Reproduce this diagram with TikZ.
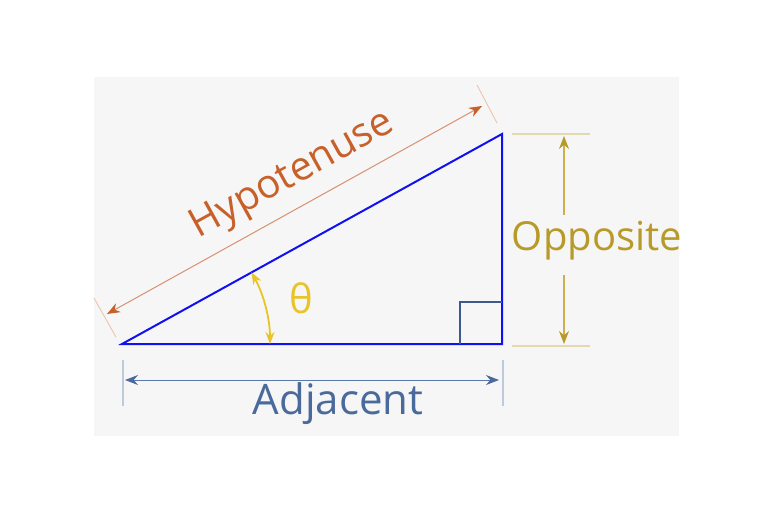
\documentclass[tikz,border=0pt]{standalone}
\usepackage{fontspec}
\setmainfont{Open Sans}
\usetikzlibrary{arrows.meta,calc}
\definecolor{bgc}{HTML}{F6F6F6}
\definecolor{tri}{HTML}{1010F0}
\definecolor{rightc}{HTML}{3C5A8C}
\definecolor{hypc}{HTML}{C8602A}
\definecolor{hypl}{HTML}{D89070}
\definecolor{hypx}{HTML}{EBC0A8}
\definecolor{thc}{HTML}{E8C428}
\definecolor{opc}{HTML}{B89A28}
\definecolor{opl}{HTML}{CBB050}
\definecolor{opx}{HTML}{E4D8AE}
\definecolor{adc}{HTML}{4A6A9C}
\definecolor{adl}{HTML}{5A78A8}
\definecolor{adx}{HTML}{BCCADC}
\tikzset{
  sidel/.style={draw=tri,line width=2pt,line join=miter},
  rightsq/.style={draw=rightc,line width=1.6pt},
  dimarrow/.style={line width=1pt},
  onearrow/.style={line width=1.2pt},
  extl/.style={line width=0.8pt},
  lbl/.style={inner sep=0pt,font=\fontsize{40}{44}\selectfont}
}
\begin{document}
\begin{tikzpicture}[x=1pt,y=-1pt]
\useasboundingbox (0,0) rectangle (768,512);
\fill[bgc] (94,77) rectangle (679,436);
% vertices
\coordinate (A) at (122,344);
\coordinate (B) at (502,344);
\coordinate (C) at (502,134);
\coordinate (S1) at (460,344);
\coordinate (S2) at (460,302);
\coordinate (S3) at (502,302);
% triangle
\draw[sidel] (A) -- (B) -- (C) -- cycle;
\draw[rightsq] (S1) -- (S2) -- (S3);
% hypotenuse dimension
\coordinate (HE1a) at (94,298);
\coordinate (HE1b) at (116,337);
\coordinate (HE2a) at (477,85);
\coordinate (HE2b) at (497,123);
\coordinate (H1) at (107,314);
\coordinate (H2) at (482,106);
\draw[hypx,extl] (HE1a) -- (HE1b);
\draw[hypx,extl] (HE2a) -- (HE2b);
\draw[dimarrow,draw=hypl,{Stealth[length=13pt,width=10pt,color=hypc]}-{Stealth[length=13pt,width=10pt,color=hypc]}] (H1) -- (H2);
\node[lbl,text=hypc,rotate=29] (hyp) at (293,176) {Hypotenuse};
% theta
\coordinate (T1) at (270,344);
\draw[thc,line width=1.8pt,{Stealth[length=12pt,width=9pt]}-{Stealth[length=12pt,width=9pt]}] (T1) arc[start angle=0,end angle=-29,radius=148];
\node[lbl,text=thc] (th) at (301,298) {θ};
% opposite dimension
\coordinate (OE1a) at (512,134);
\coordinate (OE1b) at (590,134);
\coordinate (OE2a) at (512,346);
\coordinate (OE2b) at (590,346);
\coordinate (O1) at (564,215);
\coordinate (O1t) at (564,136);
\coordinate (O2) at (564,275);
\coordinate (O2b) at (564,344);
\draw[opx,line width=1.2pt] (OE1a) -- (OE1b);
\draw[opx,line width=1.2pt] (OE2a) -- (OE2b);
\draw[onearrow,draw=opl,-{Stealth[length=13pt,width=10pt,color=opc]}] (O1) -- (O1t);
\draw[onearrow,draw=opl,-{Stealth[length=13pt,width=10pt,color=opc]}] (O2) -- (O2b);
\node[lbl,text=opc] (opp) at (597,241) {Opposite};
% adjacent dimension
\coordinate (AE1a) at (123,360);
\coordinate (AE1b) at (123,406);
\coordinate (AE2a) at (503,360);
\coordinate (AE2b) at (503,406);
\coordinate (D1) at (125,380);
\coordinate (D2) at (499,380);
\draw[adx,line width=1.2pt] (AE1a) -- (AE1b);
\draw[adx,line width=1.2pt] (AE2a) -- (AE2b);
\draw[dimarrow,draw=adl,{Stealth[length=13pt,width=10pt,color=adc]}-{Stealth[length=13pt,width=10pt,color=adc]}] (D1) -- (D2);
\node[lbl,text=adc,font=\fontsize{42}{46}\selectfont] (adj) at (338,404) {Adjacent};
\end{tikzpicture}
\end{document}
